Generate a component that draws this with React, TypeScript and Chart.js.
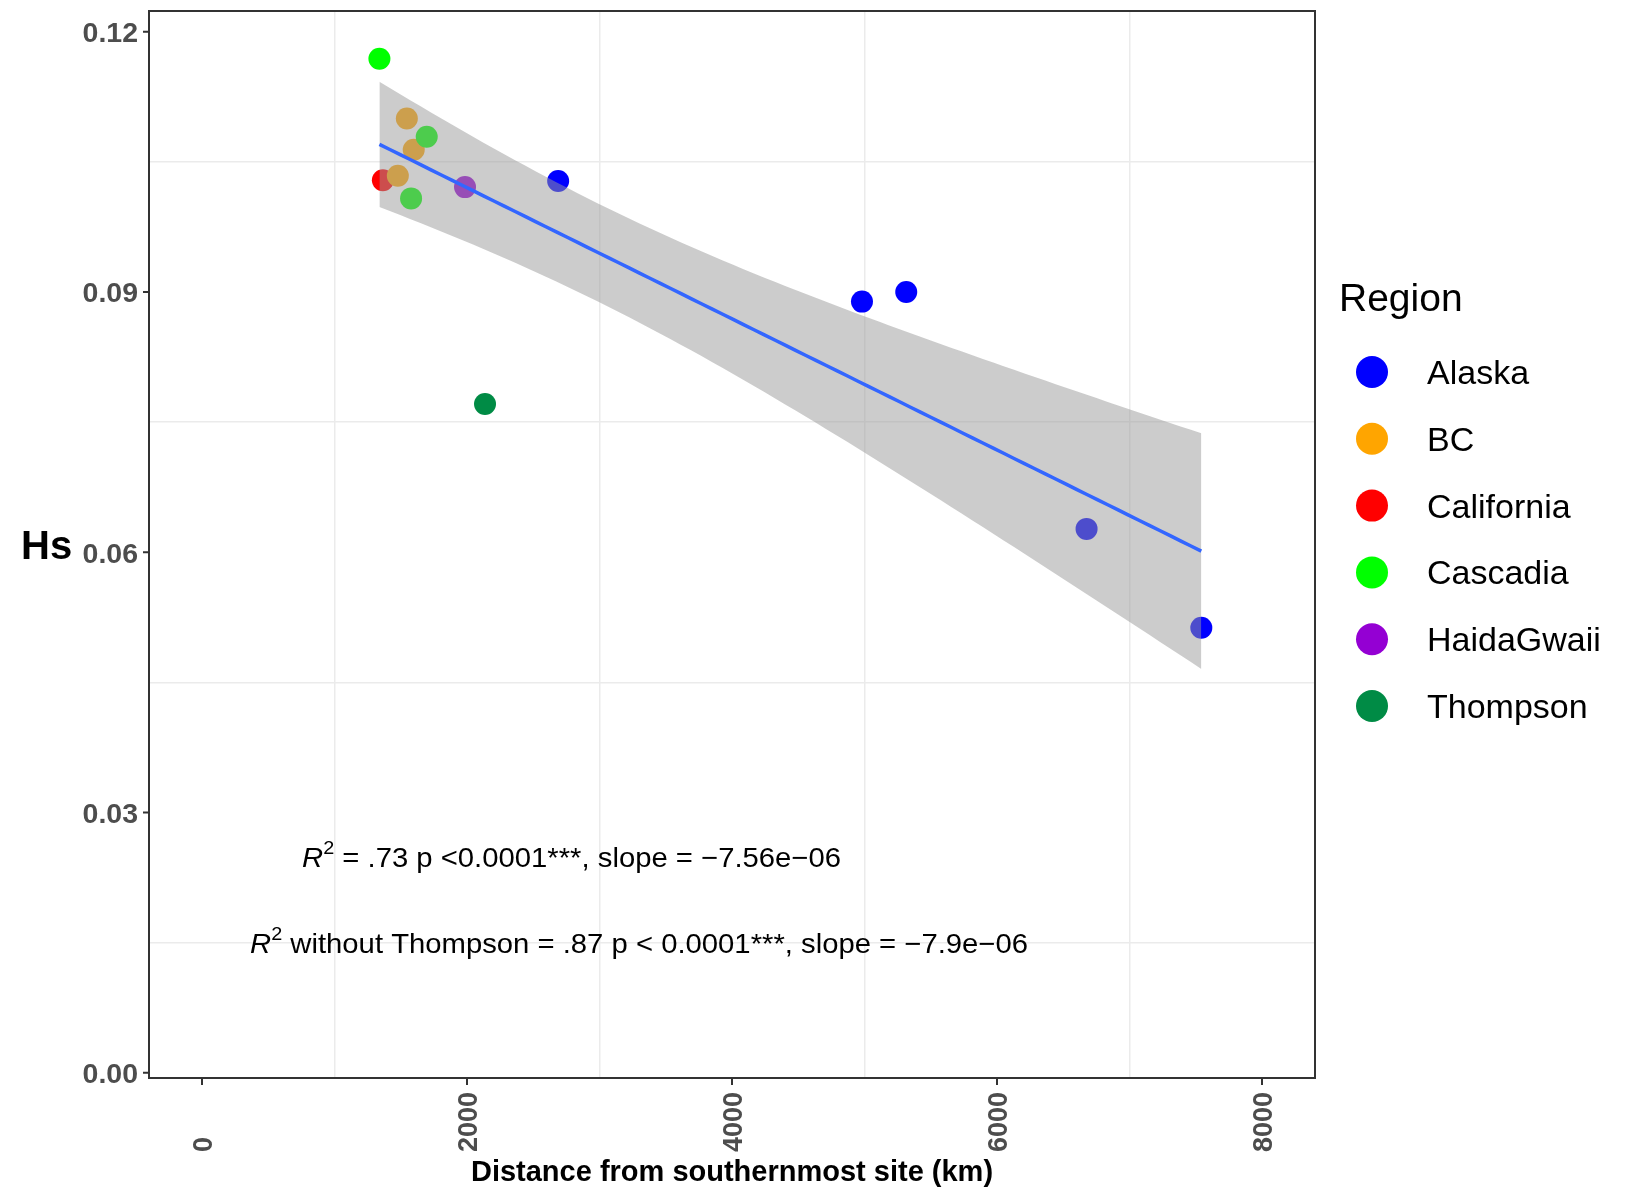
import React, { useEffect, useRef } from 'react';
import { Chart, registerables } from 'chart.js';

Chart.register(...registerables);

// ---- Data ---------------------------------------------------------------
const regionNames = ['Alaska', 'BC', 'California', 'Cascadia', 'HaidaGwaii', 'Thompson'];
const regionColors = ['#0000FF', '#FFA500', '#FF0000', '#00FF00', '#9400D3', '#008B45'];
// draw order per region (higher = drawn earlier / underneath)
const regionDrawOrder = [6, 8, 9, 7, 6, 6];

const alaskaDistance = [2688, 4981, 5315, 6676, 7542];
const alaskaHs = [0.1028, 0.0889, 0.09, 0.0627, 0.0513];
const bcDistance = [1546, 1598, 1478];
const bcHs = [0.11, 0.1064, 0.1034];
const californiaDistance = [1365];
const californiaHs = [0.1029];
const cascadiaDistance = [1339, 1696, 1578];
const cascadiaHs = [0.1169, 0.1079, 0.1008];
const haidaGwaiiDistance = [1985];
const haidaGwaiiHs = [0.1021];
const thompsonDistance = [2136];
const thompsonHs = [0.0771];

const regionDistances = [alaskaDistance, bcDistance, californiaDistance, cascadiaDistance, haidaGwaiiDistance, thompsonDistance];
const regionHs = [alaskaHs, bcHs, californiaHs, cascadiaHs, haidaGwaiiHs, thompsonHs];

const xTickValues = [0, 2000, 4000, 6000, 8000];
const yTickValues = [0, 0.03, 0.06, 0.09, 0.12];
const xMinorGrid = [1000, 3000, 5000, 7000];
const yMinorGrid = [0.015, 0.045, 0.075, 0.105];

const xTitle = 'Distance from southernmost site (km)';
const yTitle = 'Hs';
const legendTitle = 'Region';
const statLine1 = ' = .73 p <0.0001***, slope = \u22127.56e\u221206';
const statLine2 = ' without Thompson = .87 p < 0.0001***, slope = \u22127.9e\u221206';

// ---- Linear model with 95% confidence band (as geom_smooth(method = "lm")) ----
const T_975_DF12 = 2.178813;
const SMOOTH_POINTS = 80;

function fitLinear(xs: number[], ys: number[]) {
  const n = xs.length;
  const mx = xs.reduce((a, b) => a + b, 0) / n;
  const my = ys.reduce((a, b) => a + b, 0) / n;
  let sxx = 0;
  let sxy = 0;
  for (let i = 0; i < n; i++) {
    sxx += (xs[i] - mx) ** 2;
    sxy += (xs[i] - mx) * (ys[i] - my);
  }
  const slope = sxy / sxx;
  const intercept = my - slope * mx;
  let sse = 0;
  for (let i = 0; i < n; i++) sse += (ys[i] - (intercept + slope * xs[i])) ** 2;
  const s = Math.sqrt(sse / (n - 2));
  const xmin = Math.min(...xs);
  const xmax = Math.max(...xs);
  const fit: { x: number; y: number }[] = [];
  const upper: { x: number; y: number }[] = [];
  const lower: { x: number; y: number }[] = [];
  for (let k = 0; k < SMOOTH_POINTS; k++) {
    const x = xmin + ((xmax - xmin) * k) / (SMOOTH_POINTS - 1);
    const yhat = intercept + slope * x;
    const se = s * Math.sqrt(1 / n + (x - mx) ** 2 / sxx);
    fit.push({ x, y: yhat });
    upper.push({ x, y: yhat + T_975_DF12 * se });
    lower.push({ x, y: yhat - T_975_DF12 * se });
  }
  return { fit, upper, lower };
}

const allDistance = regionDistances.flat();
const allHs = regionHs.flat();
const model = fitLinear(allDistance, allHs);

// ---- Drawing helpers ----------------------------------------------------
const FAMILY = "'Liberation Sans', Arial, Helvetica, sans-serif";

type Part = { text: string; font: string; dy?: number };

function drawParts(ctx: CanvasRenderingContext2D, parts: Part[], x: number, baseline: number, targetWidth: number, color: string) {
  let natural = 0;
  for (const p of parts) {
    ctx.font = p.font;
    natural += ctx.measureText(p.text).width;
  }
  const sx = targetWidth / natural;
  ctx.save();
  ctx.translate(x, baseline);
  ctx.scale(sx, 1);
  ctx.fillStyle = color;
  ctx.textAlign = 'left';
  ctx.textBaseline = 'alphabetic';
  let cx = 0;
  for (const p of parts) {
    ctx.font = p.font;
    ctx.fillText(p.text, cx, p.dy || 0);
    cx += ctx.measureText(p.text).width;
  }
  ctx.restore();
}

const decorPlugin = {
  id: 'panelDecor',
  afterDatasetsDraw(chart: any) {
    const ctx: CanvasRenderingContext2D = chart.ctx;
    const area = chart.chartArea;
    const xs = chart.scales.x;
    const ys = chart.scales.y;
    ctx.save();

    // panel border
    ctx.strokeStyle = '#333333';
    ctx.lineWidth = 2;
    ctx.strokeRect(area.left, area.top, area.right - area.left, area.bottom - area.top);

    // tick marks
    ctx.beginPath();
    for (const v of yTickValues) {
      const py = ys.getPixelForValue(v);
      ctx.moveTo(area.left - 6, py);
      ctx.lineTo(area.left, py);
    }
    for (const v of xTickValues) {
      const px = xs.getPixelForValue(v);
      ctx.moveTo(px, area.bottom);
      ctx.lineTo(px, area.bottom + 7);
    }
    ctx.stroke();

    // y tick labels
    const yFont = 28.5;
    ctx.fillStyle = '#4d4d4d';
    ctx.font = `bold ${yFont}px ${FAMILY}`;
    ctx.textAlign = 'right';
    ctx.textBaseline = 'alphabetic';
    for (const v of yTickValues) {
      const py = ys.getPixelForValue(v);
      ctx.fillText(v.toFixed(2), area.left - 11, py + (yFont * 0.716) / 2);
    }

    // x tick labels, rotated, reading bottom to top
    const xFont = 27;
    ctx.font = `bold ${xFont}px ${FAMILY}`;
    ctx.textAlign = 'left';
    for (const v of xTickValues) {
      const px = xs.getPixelForValue(v);
      ctx.save();
      ctx.translate(px + (xFont * 0.716) / 2, area.bottom + 74);
      ctx.rotate(-Math.PI / 2);
      ctx.fillText(String(v), 0, 0);
      ctx.restore();
    }

    // axis titles
    ctx.fillStyle = '#000000';
    ctx.font = `bold 29px ${FAMILY}`;
    ctx.textAlign = 'center';
    ctx.fillText(xTitle, (area.left + area.right) / 2, area.bottom + 103);

    ctx.font = `bold 40px ${FAMILY}`;
    ctx.textAlign = 'left';
    ctx.fillText(yTitle, 21, (area.top + area.bottom) / 2 + 14);

    // legend
    ctx.font = `39px ${FAMILY}`;
    ctx.fillStyle = '#000000';
    ctx.fillText(legendTitle, 1339, 311);
    ctx.font = `34px ${FAMILY}`;
    regionNames.forEach((name, i) => {
      const cy = 372 + i * 66.8;
      ctx.beginPath();
      ctx.fillStyle = regionColors[i];
      ctx.arc(1372, cy, 16, 0, Math.PI * 2);
      ctx.fill();
      ctx.fillStyle = '#000000';
      ctx.fillText(name, 1427, cy + 12);
    });

    // regression statistics
    const base = `28px ${FAMILY}`;
    drawParts(
      ctx,
      [
        { text: 'R', font: `italic ${base}` },
        { text: '2', font: `19px ${FAMILY}`, dy: -13 },
        { text: statLine1, font: base },
      ],
      302,
      867,
      539,
      '#000000'
    );
    drawParts(
      ctx,
      [
        { text: 'R', font: `italic ${base}` },
        { text: '2', font: `19px ${FAMILY}`, dy: -13 },
        { text: statLine2, font: base },
      ],
      250,
      953,
      778,
      '#000000'
    );

    ctx.restore();
  },
};

export default function App() {
  const canvasRef = useRef<HTMLCanvasElement>(null);

  useEffect(() => {
    const canvas = canvasRef.current;
    if (!canvas) return;

    const pointSets = regionNames.map((name, i) => ({
      type: 'scatter' as const,
      label: name,
      data: regionDistances[i].map((d, j) => ({ x: d, y: regionHs[i][j] })),
      backgroundColor: regionColors[i],
      borderWidth: 0,
      pointRadius: 11,
      pointHoverRadius: 11,
      order: regionDrawOrder[i],
    }));

    const chart = new Chart(canvas, {
      type: 'scatter',
      data: {
        datasets: [
          ...pointSets,
          {
            type: 'line',
            label: 'ci-upper',
            data: model.upper,
            borderWidth: 0,
            pointRadius: 0,
            fill: '+1',
            backgroundColor: 'rgba(153,153,153,0.5)',
            order: 2,
          },
          {
            type: 'line',
            label: 'ci-lower',
            data: model.lower,
            borderWidth: 0,
            pointRadius: 0,
            fill: false,
            order: 2,
          },
          {
            type: 'line',
            label: 'fit',
            data: model.fit,
            borderColor: '#3366FF',
            borderWidth: 3.5,
            pointRadius: 0,
            fill: false,
            order: 1,
          },
        ] as any,
      },
      options: {
        animation: false,
        responsive: false,
        devicePixelRatio: 1,
        events: [],
        layout: { padding: { left: 149, right: 314, top: 9, bottom: 109 } },
        plugins: {
          legend: { display: false },
          tooltip: { enabled: false },
        },
        scales: {
          x: {
            type: 'linear',
            min: -400,
            max: 8400,
            afterBuildTicks: (scale: any) => {
              scale.ticks = xMinorGrid.map((v) => ({ value: v }));
            },
            ticks: { display: false },
            grid: { color: '#ebebeb', lineWidth: 1.5, drawTicks: false },
            border: { display: false },
          },
          y: {
            type: 'linear',
            min: -0.0006,
            max: 0.1224,
            afterBuildTicks: (scale: any) => {
              scale.ticks = yMinorGrid.map((v) => ({ value: v }));
            },
            ticks: { display: false },
            grid: { color: '#ebebeb', lineWidth: 1.5, drawTicks: false },
            border: { display: false },
          },
        },
      } as any,
      plugins: [decorPlugin],
    });

    return () => chart.destroy();
  }, []);

  return (
    <div style={{ position: 'fixed', left: 0, top: 0, width: 1629, height: 1187, background: '#ffffff' }}>
      <canvas ref={canvasRef} width={1629} height={1187} style={{ display: 'block' }} />
    </div>
  );
}
